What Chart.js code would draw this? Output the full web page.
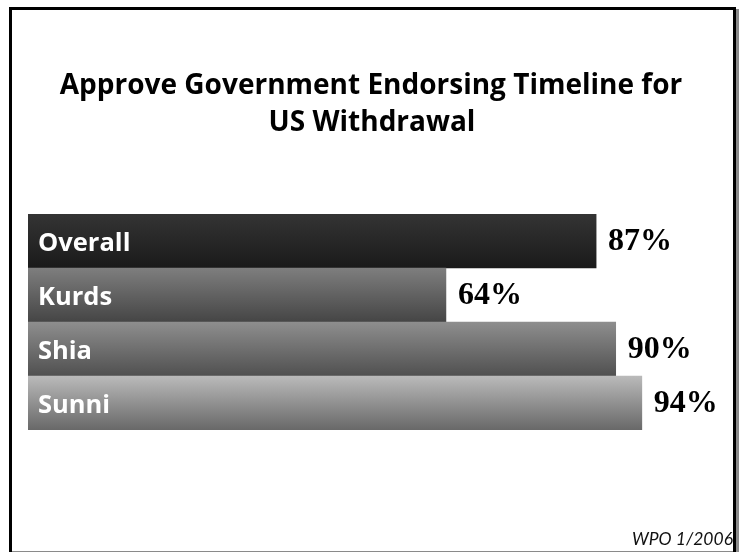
<!DOCTYPE html>
<html>
<head>
<meta charset="utf-8">
<script src="https://cdn.jsdelivr.net/npm/chart.js@4"></script>
<style>
html,body{margin:0;padding:0;background:#fff;}
#wrap{position:relative;width:739px;height:552px;}
</style>
</head>
<body>
<div id="wrap"><canvas id="c" width="739" height="552"></canvas></div>
<script>
const categories = ["Overall", "Kurds", "Shia", "Sunni"];
const approvePct = [87, 64, 90, 94];
const valueLabels = ["87%", "64%", "90%", "94%"];
const titleLines = ["Approve Government Endorsing Timeline for", "US Withdrawal"];
const sourceNote = "WPO 1/2006";

const barTopColors = ["#343434", "#7e7e7e", "#8e8e8e", "#bababa"];
const barBottomColors = ["#1a1a1a", "#454545", "#505050", "#686868"];

function barFill(ctx) {
  const chart = ctx.chart;
  const area = chart.chartArea;
  const i = ctx.dataIndex;
  if (!area || i === undefined) return barBottomColors[i || 0];
  const ys = chart.scales.y;
  const c = ys.getPixelForValue(i);
  const half = ys.height / categories.length / 2;
  const g = chart.ctx.createLinearGradient(0, c - half, 0, c + half);
  g.addColorStop(0, barTopColors[i]);
  g.addColorStop(1, barBottomColors[i]);
  return g;
}

const decor = {
  id: 'decor',
  beforeDraw(chart) {
    const ctx = chart.ctx;
    ctx.save();
    ctx.fillStyle = '#ffffff';
    ctx.fillRect(0, 0, chart.width, chart.height);
    ctx.restore();
  },
  afterDatasetsDraw(chart) {
    const ctx = chart.ctx;
    const meta = chart.getDatasetMeta(0);
    ctx.save();
    meta.data.forEach((bar, i) => {
      ctx.font = 'bold 25.5px "Open Sans"';
      ctx.fillStyle = '#ffffff';
      ctx.textAlign = 'left';
      ctx.textBaseline = 'alphabetic';
      ctx.fillText(categories[i], bar.base + 10, bar.y + 10);
      ctx.font = 'bold 32px "Liberation Serif"';
      ctx.fillStyle = '#000000';
      ctx.fillText(valueLabels[i], bar.x + 12, bar.y + 9);
    });
    ctx.restore();
  },
  afterDraw(chart) {
    const ctx = chart.ctx;
    ctx.save();
    // title
    ctx.fillStyle = '#000000';
    ctx.font = 'bold 28px "Open Sans"';
    ctx.textAlign = 'center';
    ctx.textBaseline = 'alphabetic';
    ctx.fillText(titleLines[0], 371, 94);
    ctx.fillText(titleLines[1], 372, 131);
    // source
    ctx.font = 'italic 17.5px Lato';
    ctx.textAlign = 'right';
    ctx.fillStyle = '#111111';
    ctx.fillText(sourceNote, 733, 545);
    // frame
    ctx.fillStyle = '#000000';
    ctx.fillRect(9, 7, 727, 3);
    ctx.fillRect(9, 7, 3, 545);
    ctx.fillRect(733, 7, 3, 545);
    ctx.fillStyle = '#8a8a8a';
    ctx.fillRect(736, 9, 3, 543);
    ctx.fillRect(12, 551, 721, 1);
    ctx.restore();
  }
};

new Chart(document.getElementById('c'), {
  type: 'bar',
  data: {
    labels: categories,
    datasets: [{
      data: approvePct,
      backgroundColor: barFill,
      borderWidth: 0,
      barPercentage: 1,
      categoryPercentage: 1
    }]
  },
  options: {
    indexAxis: 'y',
    responsive: false,
    animation: false,
    layout: { padding: { left: 28, right: 58, top: 214, bottom: 122 } },
    scales: {
      x: { display: false, min: 0, max: 100 },
      y: { display: false }
    },
    plugins: {
      legend: { display: false },
      tooltip: { enabled: false },
      title: { display: false }
    }
  },
  plugins: [decor]
});
</script>
</body>
</html>
